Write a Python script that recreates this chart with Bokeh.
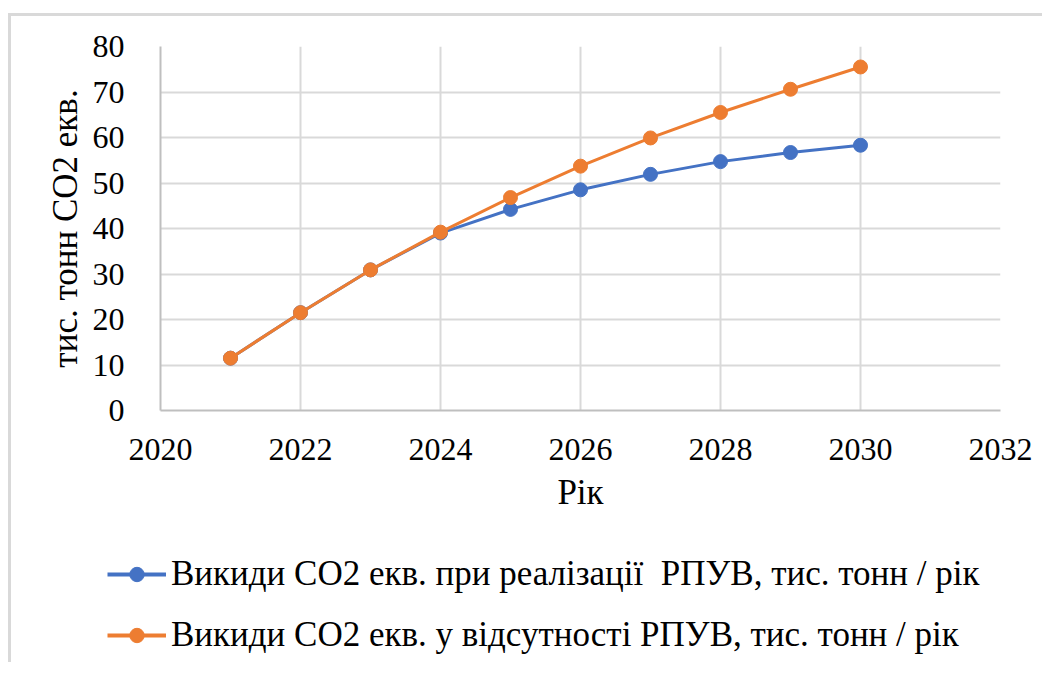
from bokeh.plotting import figure
from bokeh.models import Legend, LegendItem, FixedTicker, ColumnDataSource
from bokeh.embed import file_html
from bokeh.resources import INLINE

years = [2021, 2022, 2023, 2024, 2025, 2026, 2027, 2028, 2029, 2030]
with_rpuv = [11.5, 21.5, 30.9, 39.0, 44.2, 48.5, 51.9, 54.7, 56.7, 58.3]
without_rpuv = [11.5, 21.5, 30.9, 39.2, 46.8, 53.7, 59.9, 65.5, 70.6, 75.5]
x_ticks = [2020, 2022, 2024, 2026, 2028, 2030, 2032]
y_ticks = [0, 10, 20, 30, 40, 50, 60, 70, 80]
label_blue = "Викиди СО2 екв. при реалізації  РПУВ, тис. тонн / рік"
label_orange = "Викиди СО2 екв. у відсутності РПУВ, тис. тонн / рік"

FONT = "serif"
BLUE = "#4472C4"
ORANGE = "#ED7D31"
GRID = "#d9d9d9"

p = figure(width=1034, height=524, output_backend="svg", toolbar_location=None,
           x_range=(2020, 2032), y_range=(0, 80),
           min_border_left=149, min_border_right=45, min_border_top=30, min_border_bottom=130)
p.outline_line_color = None
p.styles = {"border-top": "3px solid #d9d9d9", "border-left": "3px solid #d9d9d9",
            "margin-top": "13px", "margin-left": "8px"}

p.xaxis.ticker = FixedTicker(ticks=x_ticks)
p.yaxis.ticker = FixedTicker(ticks=y_ticks)
for ax in (p.xaxis, p.yaxis):
    ax.axis_line_color = "#bfbfbf"
    ax.axis_line_width = 2
    ax.major_tick_line_color = None
    ax.minor_tick_line_color = None
    ax.major_label_text_font = FONT
    ax.major_label_text_font_size = "32px"
    ax.major_label_text_color = "#000000"
    ax.axis_label_text_font = FONT
    ax.axis_label_text_font_size = "35px"
    ax.axis_label_text_font_style = "normal"
    ax.axis_label_text_color = "#000000"
p.xaxis.major_label_standoff = 22
p.yaxis.major_label_standoff = 30
p.xaxis.axis_label = "Рік"
p.yaxis.axis_label = "тис. тонн СО2 екв."
p.xaxis.axis_label_standoff = 10
p.yaxis.axis_label_standoff = 5

p.xgrid.grid_line_color = GRID
p.xgrid.grid_line_width = 2
p.ygrid.grid_line_color = GRID
p.ygrid.grid_line_width = 2

src = ColumnDataSource(dict(x=years, a=with_rpuv, b=without_rpuv))
p.line("x", "a", source=src, line_color=BLUE, line_width=3)
p.scatter("x", "a", source=src, size=14, fill_color=BLUE, line_color=BLUE)
p.line("x", "b", source=src, line_color=ORANGE, line_width=3)
p.scatter("x", "b", source=src, size=14, fill_color=ORANGE, line_color=ORANGE)

# legend panel below the chart (separate root, so frames are not aligned)
lg = figure(width=1034, height=125, output_backend="svg", toolbar_location=None,
            x_range=(0, 1), y_range=(0, 1), min_border=0)
lg.styles = {"border-left": "3px solid #d9d9d9", "margin-left": "8px"}
lg.axis.visible = False
lg.grid.visible = False
lg.outline_line_color = None
dummy = ColumnDataSource(dict(x=[-5.0], y=[-5.0]))
r1 = lg.line("x", "y", source=dummy, line_color=BLUE, line_width=4)
m1 = lg.scatter("x", "y", source=dummy, size=11, fill_color=BLUE, line_color=BLUE)
r2 = lg.line("x", "y", source=dummy, line_color=ORANGE, line_width=4)
m2 = lg.scatter("x", "y", source=dummy, size=11, fill_color=ORANGE, line_color=ORANGE)
legend = Legend(items=[LegendItem(label=label_blue, renderers=[r1, m1]),
                       LegendItem(label=label_orange, renderers=[r2, m2])],
                location=(96, 7), orientation="vertical",
                label_text_font=FONT, label_text_font_size="35px", label_text_color="#000000",
                glyph_width=59, glyph_height=36, spacing=21, padding=0, margin=0,
                label_standoff=5, border_line_color=None, background_fill_alpha=0)
lg.add_layout(legend, "center")

open("out.html", "w").write(file_html([p, lg], INLINE))
